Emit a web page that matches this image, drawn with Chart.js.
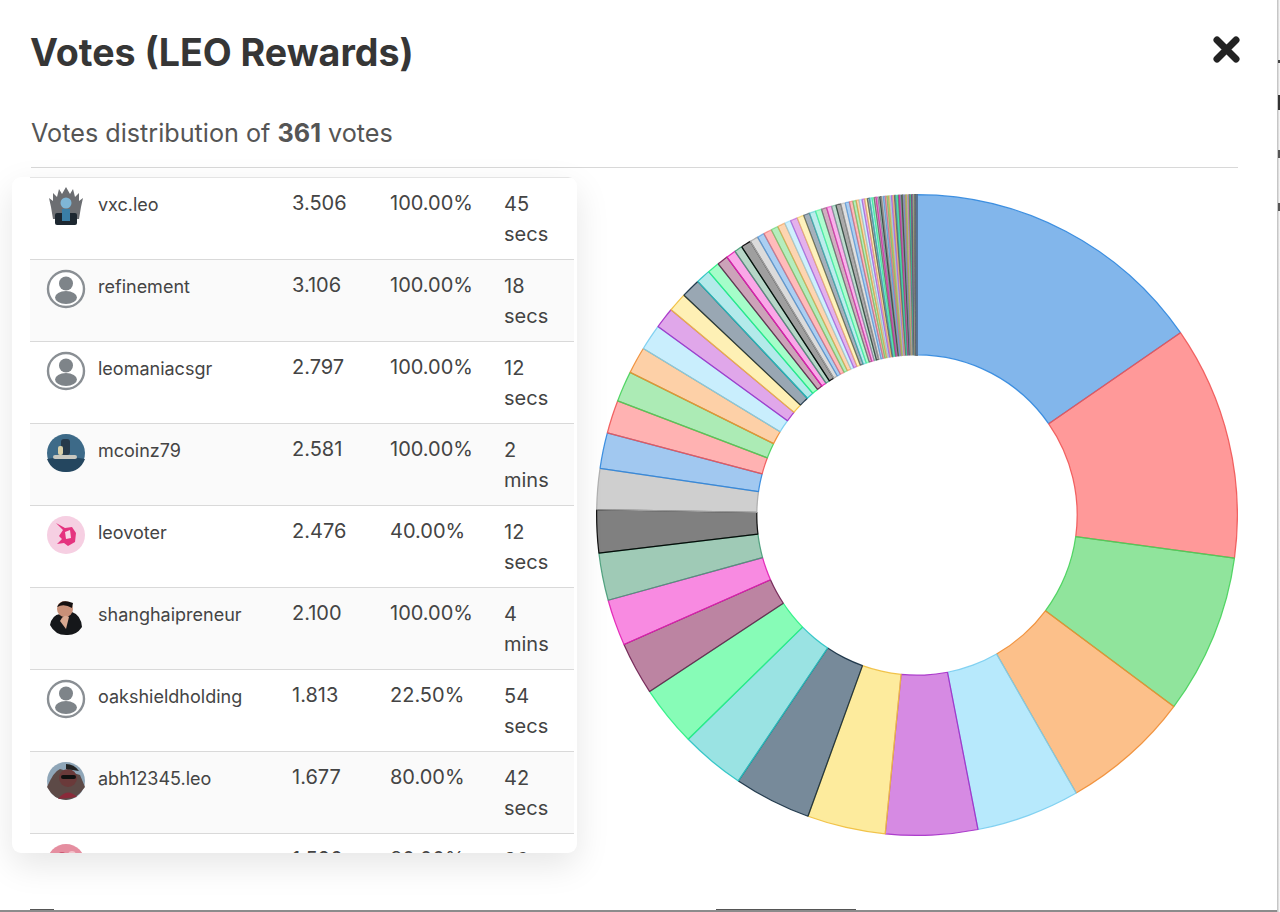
<!DOCTYPE html>
<html><head><meta charset="utf-8">
<script src="https://cdn.jsdelivr.net/npm/chart.js@4"></script>
<style>
html,body{margin:0;padding:0;background:#fff;width:1280px;height:912px;overflow:hidden;font-family:Inter,"Noto Sans",sans-serif;color:#333}
.abs{position:absolute}
#title{left:30px;top:28px;font-size:37.6px;font-weight:700;line-height:50px;color:#363636;white-space:nowrap}
#sub{left:31px;top:116px;font-size:25.2px;line-height:34px;color:#555;white-space:nowrap}
#sub b{font-weight:700}
#rule{left:31px;top:167px;width:1207px;height:1px;background:#d8d8d8}
#card{left:12px;top:177px;width:565px;height:676px;border-radius:9px;background:#fff;overflow:hidden;box-shadow:0 12px 34px rgba(0,0,0,.10)}
.row{position:absolute;left:18px;width:544px;height:82px;border-top:1.5px solid #d9d9d9;box-sizing:border-box;font-size:20px;line-height:30px;color:#444}
.row.alt{background:#fafafa}
.row span{position:absolute;top:10px;white-space:nowrap}
.row span.n{left:68px;font-size:18px;top:12px}.v{left:262px}.p{left:360px}.row span.t{left:474px;width:50px;white-space:normal;top:10.5px}
.av{position:absolute;left:16px;top:9px;width:40px;height:40px}
#edgeR{left:1277px;top:0;width:3px;height:912px;background:linear-gradient(90deg,#bbb,#fff)}
#edgeB{left:0;top:910px;width:1277px;height:2px;background:#8c8c8c}
#chartBox{left:596px;top:194px;width:642px;height:642px}
</style></head><body>
<div class="abs" id="title">Votes (LEO Rewards)</div>
<svg class="abs" style="left:1212px;top:35px" width="29" height="29" viewBox="0 0 29 29"><path d="M5 5L24 24M24 5L5 24" stroke="#222" stroke-width="7" stroke-linecap="round"/></svg>
<div class="abs" id="sub">Votes distribution of <b>361</b> votes</div>
<div class="abs" id="rule"></div>
<div class="abs" id="card"></div>
<div class="abs" id="chartBox"><canvas id="c" width="642" height="642"></canvas></div>
<div class="abs" id="edgeR"></div>
<div class="abs" id="edgeB"></div>
<div class="abs" style="left:30px;top:909px;width:24px;height:1px;background:#555"></div>
<div class="abs" style="left:716px;top:909px;width:140px;height:1px;background:#555"></div>
<div class="abs" style="left:1278px;top:60px;width:2px;height:3px;background:#444"></div>
<div class="abs" style="left:1278px;top:95px;width:2px;height:15px;background:#333"></div>
<div class="abs" style="left:1278px;top:150px;width:2px;height:8px;background:#555"></div>
<div class="abs" style="left:1278px;top:203px;width:2px;height:8px;background:#555"></div>
<script>
const voters=["vxc.leo","refinement","leomaniacsgr","mcoinz79","leovoter","shanghaipreneur","oakshieldholding","abh12345.leo","fi"];
const rewards=["3.506","3.106","2.797","2.581","2.476","2.100","1.813","1.677","1.526"];
const weights=["100.00%","100.00%","100.00%","100.00%","40.00%","100.00%","22.50%","80.00%","80.00%"];
const times=["45 secs","18 secs","12 secs","2 mins","12 secs","4 mins","54 secs","42 secs","36 secs"];
const avatars=["throne","none","none","lake","pink","suit","none","photo","rose"];

const voteValues=[
10.32,7.91,5.41,4.38,3.51,3.11,2.65,2.61,2.18,2.05,
1.79,1.57,1.60,1.46,1.38,1.21,1.12,1.04,.91,.88,
.71,.65,.65,.49,.41,.37,.33,.27,.34,.28,
.24,.28,.24,.26,.21,.24,.23,.21,.21,.21,
.18,.17,.15,.17,.15,.14,
.12,.11,.10,.10,.09,.09,.08,.08,.07,.07,
.06,.06,.06,.06,.06,.06,.05,.05,.05,.05,
.05,.05,.04,.04,.04,.04,.04,.04,.03,.03,
.03,.03,.03,.02,.02,.02,.02,.02,.02,.02,
.01,.01,.01,.01,.01,.01,.01,.01,.01,.01,
.0008,.0008,.0008,.0008,.0008,.0008,.0008,.0008,.0008,.0008,
.0008,.0008,.0008,.0008,.0008,.0008,.0008,.0008,.0008,.0008,
.0008,.0008,.0008,.0008,.0008,.0008,.0008,.0008,.0008,.0008,
.0008,.0008,.0008,.0008,.0008,.0008,.0008,.0008,.0008,.0008,
.0008,.0008,.0008,.0008,.0008,.0008,.0008,.0008,.0008,.0008,
.0003,.0003,.0003,.0003,.0003,.0003,.0003,.0003,.0003,.0003,
.0003,.0003,.0003,.0003,.0003,.0003,.0003,.0003,.0003,.0003,
.0003,.0003,.0003,.0003,.0003,.0003,.0003,.0003,.0003,.0003,
.0003,.0003,.0003,.0003,.0003,.0003,.0003,.0003,.0003,.0003,
.0003,.0003,.0003,.0003,.0003,.0003,.0003,.0003,.0003,.0003,
.0003,.0003,.0003,.0003,.0003,.0003,.0003,.0003,.0003,.0003,
.0003,.0003,.0003,.0003,.0003,.0003,.0003,.0003,.0003,.0003,
.0003,.0003,.0003,.0003,.0003,.0003,.0003,.0003,.0003,.0003,
.0001,.0001,.0001,.0001,.0001,.0001,.0001,.0001,.0001,.0001,
.0001,.0001,.0001,.0001,.0001,.0001,.0001,.0001,.0001,.0001,
.0001,.0001,.0001,.0001,.0001,.0001,.0001,.0001,.0001,.0001,
.0001,.0001,.0001,.0001,.0001,.0001,.0001,.0001,.0001,.0001,
.0001,.0001,.0001,.0001,.0001,.0001,.0001,.0001,.0001,.0001,
.0001,.0001,.0001,.0001,.0001,.0001,.0001,.0001,.0001,.0001,
.0001,.0001,.0001,.0001,.0001,.0001,.0001,.0001,.0001,.0001,
.0001,.0001,.0001,.0001,.0001,.0001,.0001,.0001,.0001,.0001,
.0001,.0001,.0001,.0001,.0001,.0001,.0001,.0001,.0001,.0001,
.0001,.0001,.0001,.0001,.0001,.0001,.0001,.0001,.0001,.0001,
.0001,.0001,.0001,.0001,.0001,.0001,.0001,.0001,.0001,.0001,
.0001,.0001,.0001,.0001,.0001,.0001,.0001,.0001,.0001,.0001,
.0001,.0001,.0001,.0001,.0001,.0001,.0001,.0001,.0001,.0001,
.0001,.0001,.0001,.0001,.0001];
const voteLabels=voteValues.map((_,i)=>"vote "+(i+1));
const fillPalette=[[46,134,222],[255,85,85],[70,210,90],[250,150,60],[135,218,250],[187,60,208],[252,222,91],[28,60,87],[87,208,208],[55,250,135],[143,50,100],[243,60,205],[95,167,134],[43,43,43],[175,175,175]];
const strokePalette=[[46,134,222],[240,85,85],[70,210,90],[240,140,50],[120,205,240],[165,45,200],[240,190,60],[20,45,65],[40,195,195],[40,240,130],[110,30,80],[225,30,180],[70,155,120],[0,0,0],[170,170,170]];

const avatarSvg={
 none:'<circle cx="20" cy="20" r="18" fill="#fff" stroke="#8a8f94" stroke-width="2.4"/><circle cx="20" cy="14.5" r="7" fill="#7e8489"/><ellipse cx="20" cy="28.5" rx="11" ry="6.5" fill="#7e8489"/>',
 throne:'<path d="M5 20L3 11L7 14L7 6L11 10L13 2L16 7L20 0L24 7L27 2L29 10L33 6L33 14L37 11L35 20L33 32H7Z" fill="#6c6e72"/><circle cx="20" cy="16" r="5.5" fill="#7fb6d6"/><rect x="9" y="26" width="22" height="12" rx="2" fill="#1d2730"/><rect x="16" y="22" width="8" height="12" fill="#3a7ea6"/>',
 lake:'<circle cx="20" cy="20" r="19" fill="#3d6a88"/><path d="M1 26Q20 22 39 26Q34 39 20 39Q6 39 1 26Z" fill="#24465f"/><rect x="7" y="22" width="24" height="4" rx="2" fill="#c8c8c0"/><rect x="15" y="6" width="9" height="16" rx="3" fill="#26394a"/><rect x="12" y="13" width="5" height="9" rx="2" fill="#d8cfa8"/>',
 pink:'<circle cx="20" cy="20" r="19" fill="#f6cfe2"/><path d="M10 8L17 15L13 21L16 24L11 29L18 28L22 31L29 27L30 18L26 12L19 13Z" fill="#e5337f"/><path d="M19 17L24 15L25 23L20 24Z" fill="#f8d8e7"/>',
 suit:'<path d="M4 28Q6 18 14 17L26 15Q35 18 36 30Q30 39 20 38Q9 38 4 28Z" fill="#15171a"/><circle cx="19" cy="12" r="8" fill="#c89078"/><path d="M11 10Q15 1 27 6L26 11Q18 6 11 10Z" fill="#151010"/><path d="M14 24Q18 16 23 20L20 32Z" fill="#d8a890"/>',
 photo:'<circle cx="20" cy="20" r="19" fill="#8fa6b8"/><path d="M1 26Q8 10 14 8L34 14L39 26Q30 39 20 39Q8 39 1 26Z" fill="#5d4a47"/><circle cx="22" cy="17" r="9" fill="#6a3a3a"/><rect x="15" y="14" width="15" height="4" rx="2" fill="#111"/><path d="M20 3Q28 3 33 10L20 8Z" fill="#222"/><path d="M12 38Q21 26 31 36Z" fill="#8a2a3a"/>',
 rose:'<circle cx="20" cy="20" r="19" fill="#e58ea0"/><circle cx="16" cy="14" r="5" fill="#c9566f"/><circle cx="26" cy="12" r="4" fill="#f3c2cb"/>'
};
const card=document.getElementById('card');
voters.forEach((u,i)=>{
 const r=document.createElement('div');
 r.className='row'+(i%2?' alt':'');
 r.style.top=(i*82)+'px';
 if(i==0) r.style.borderTop='1px solid #e4e4e4';
 r.innerHTML='<svg class="av" viewBox="0 0 40 40">'+avatarSvg[avatars[i]]+'</svg><span class="n">'+u+'</span><span class="v">'+rewards[i]+'</span><span class="p">'+weights[i]+'</span><span class="t">'+times[i]+'</span>';
 card.appendChild(r);
});

new Chart(document.getElementById('c'),{
 type:'doughnut',
 data:{labels:voteLabels,datasets:[{data:voteValues,
  borderWidth:1.25,
  backgroundColor:ctx=>{const c=fillPalette[ctx.dataIndex%15];const a=ctx.dataIndex<15?0.6:(ctx.dataIndex<30?0.45:0.4);return `rgba(${c[0]},${c[1]},${c[2]},${a})`},
  borderColor:ctx=>{const c=strokePalette[ctx.dataIndex%15];const a=ctx.dataIndex<30?0.9:0.5;return `rgba(${c[0]},${c[1]},${c[2]},${a})`}
 }]},
 options:{responsive:false,animation:false,cutout:'50%',
  plugins:{legend:{display:false},tooltip:{enabled:false}},layout:{padding:0}}
});
</script>
</body></html>
